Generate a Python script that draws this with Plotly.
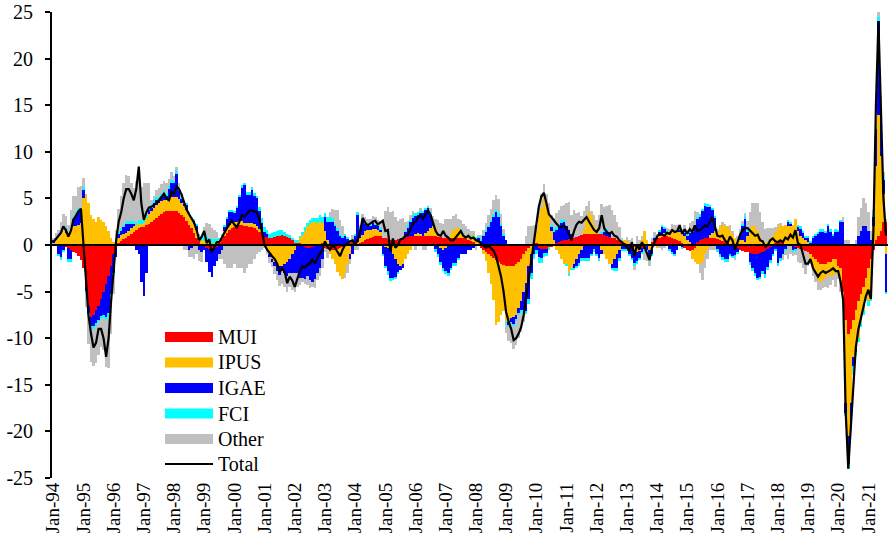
import plotly.graph_objects as go

TICK_LABELS = ["Jan-94", "Jan-95", "Jan-96", "Jan-97", "Jan-98", "Jan-99", "Jan-00",
               "Jan-01", "Jan-02", "Jan-03", "Jan-04", "Jan-05", "Jan-06", "Jan-07",
               "Jan-08", "Jan-09", "Jan-10", "Jan-11", "Jan-12", "Jan-13", "Jan-14",
               "Jan-15", "Jan-16", "Jan-17", "Jan-18", "Jan-19", "Jan-20", "Jan-21"]
Y_TICKS = [-25, -20, -15, -10, -5, 0, 5, 10, 15, 20, 25]
Y_LABELS = ["-25", "-20", "-15", "-10", "-5", "0", "5", "10", "15", "20", "25"]

# monthly values, Jan-94 ... Aug-21 (one row per year)
MUI = [
    0.0, 0.0, 0.0, 0.0, 0.0, -0.2, -0.3, -0.5, -0.7, -0.9, -1.2, -1.6,
    -2.5, -4.5, -6.5, -7.7, -7.5, -7.0, -6.5, -5.8, -5.0, -4.2, -3.3, -2.3,
    -1.0, -0.3, 0.2, 0.4, 0.6, 0.8, 1.0, 1.2, 1.4, 1.6, 1.8, 1.9,
    1.9, 2.1, 2.3, 2.5, 2.7, 2.9, 3.1, 3.3, 3.5, 3.6, 3.7, 3.7,
    3.7, 3.6, 3.4, 3.2, 3.0, 2.6, 2.2, 1.8, 1.3, 0.8, 0.4, 0.1,
    0.0, -0.3, -0.4, -0.4, -0.3, -0.2, 0.2, 0.6, 1.0, 1.3, 1.6, 1.8,
    1.9, 2.0, 2.1, 2.1, 2.0, 2.0, 1.9, 1.9, 1.8, 1.6, 1.4, 1.2,
    0.9, 0.9, 0.8, 0.8, 0.9, 1.0, 1.0, 1.1, 1.0, 0.9, 0.8, 0.6,
    0.3, 0.3, 0.2, 0.1, -0.2, -0.3, -0.3, -0.2, -0.1, 0.0, 0.1, 0.2,
    -0.3, -0.4, -0.5, -0.5, -0.5, -0.4, -0.3, -0.2, 0.0, 0.2, 0.3, 0.4,
    0.0, 0.1, 0.2, 0.3, 0.5, 0.6, 0.8, 0.9, 1.0, 1.0, 1.0, 0.8,
    0.7, 0.6, 0.5, 0.4, 0.5, 0.6, 0.7, 0.8, 0.9, 0.9, 1.0, 1.0,
    1.0, 1.0, 1.0, 1.0, 1.0, 1.0, 1.0, 1.0, 1.0, 0.9, 0.9, 0.8,
    0.8, 0.8, 0.8, 0.8, 0.8, 0.8, 0.8, 0.7, 0.6, 0.5, 0.4, 0.3,
    0.1, -0.1, -0.3, -0.5, -0.7, -1.0, -1.2, -1.4, -1.6, -1.8, -2.0, -2.1,
    -2.2, -2.3, -2.3, -2.2, -2.0, -1.8, -1.5, -1.0, -0.6, -0.3, 0.0, 0.2,
    0.2, -0.3, -0.4, -0.4, -0.4, -0.3, -0.2, 0.0, 0.2, 0.3, 0.4, 0.5,
    0.5, 0.6, 0.7, 0.8, 0.9, 1.0, 1.1, 1.2, 1.2, 1.2, 1.2, 1.2,
    1.2, 1.2, 1.2, 1.1, 1.0, 0.9, 0.8, 0.7, 0.5, 0.4, 0.3, 0.2,
    0.1, 0.0, -0.1, -0.2, -0.3, -0.3, -0.3, -0.2, -0.1, 0.1, 0.3, 0.5,
    0.6, 0.8, 0.9, 1.0, 1.0, 0.9, 0.8, 0.6, 0.5, 0.4, 0.2, -0.3,
    -0.5, -0.6, -0.5, -0.3, 0.3, 0.5, 0.6, 0.7, 0.8, 0.8, 0.8, 0.7,
    0.6, 0.5, 0.4, 0.3, 0.2, 0.1, 0.0, -0.1, -0.3, -0.5, -0.6, -0.7,
    -0.8, -0.9, -1.0, -1.0, -1.0, -0.9, -0.8, -0.6, -0.4, -0.2, 0.0, 0.2,
    0.3, 0.3, 0.2, 0.1, 0.0, 0.0, -0.1, -0.2, -0.3, -0.4, -0.5, -0.6,
    -0.8, -1.0, -1.3, -1.5, -1.8, -2.0, -2.0, -2.0, -1.8, -1.8, -1.5, -1.5,
    -2.2, -2.5, -5.0, -8.0, -9.5, -9.0, -8.0, -7.0, -6.0, -5.3, -4.5, -3.5,
    -2.5, -1.5, -0.5, 0.5, 1.0, 1.5, 2.5, 2.5,
]

IPUS = [
    0.3, 0.5, 0.8, 1.0, 1.5, 1.3, 1.2, 1.6, 2.0, 2.0, 2.2, 2.4,
    5.0, 5.5, 4.5, 3.2, 2.8, 2.5, 3.0, 2.7, 2.5, 2.0, 1.5, 0.8,
    0.3, 0.5, 0.6, 0.7, 0.6, 0.5, 0.5, 0.6, 0.6, 0.5, 0.5, 0.4,
    0.5, 0.8, 1.0, 1.2, 1.3, 1.4, 1.4, 1.4, 1.3, 1.2, 1.3, 1.5,
    1.5, 1.6, 1.5, 1.3, 1.2, 1.2, 1.2, 1.1, 1.0, 0.8, 0.5, 0.4,
    0.4, 0.3, 0.3, 0.2, 0.2, 0.3, 0.3, 0.4, 0.5, 0.5, 0.5, 0.6,
    0.6, 0.5, 0.5, 0.5, 0.4, 0.4, 0.5, 0.5, 0.5, 0.4, 0.3, 0.2,
    0.0, -0.5, -1.0, -1.5, -1.8, -2.0, -2.2, -2.2, -2.0, -1.8, -1.5, -1.0,
    -0.5, 0.0, 0.5, 1.0, 1.5, 2.0, 2.3, 2.5, 2.5, 2.4, 2.5, 2.2,
    1.5, 0.5, -0.5, -1.0, -1.5, -2.5, -3.0, -3.5, -3.0, -2.0, -1.0, 0.0,
    0.0, 0.2, 0.5, 0.8, 1.0, 1.0, 0.8, 0.8, 0.7, 0.6, 0.4, 0.0,
    -0.2, -0.3, -0.5, -1.0, -1.5, -2.0, -2.2, -2.0, -1.5, -1.0, -0.5, 0.0,
    0.2, 0.3, 0.2, 0.0, 0.3, 0.5, 0.8, 1.0, 0.8, 0.3, -0.3, -0.5,
    -0.3, 0.0, 0.5, 0.8, 1.0, 1.0, 0.8, 0.5, 0.3, 0.3, 0.5, 0.8,
    0.3, 0.3, 0.0, -0.5, -1.0, -2.0, -3.0, -4.5, -7.0, -6.5, -5.5, -5.0,
    -6.0, -6.0, -5.5, -5.5, -5.5, -5.0, -4.5, -4.0, -3.5, -2.0, -1.0, 0.5,
    1.5, 3.0, 4.0, 5.0, 4.5, 3.5, 1.5, 0.5, -0.5, -1.0, -1.5, -2.0,
    -2.0, -3.0, -2.5, -2.0, -1.5, -1.0, -0.5, 0.5, 1.5, 2.5, 2.0, 1.0,
    0.5, 0.0, -0.5, -1.0, -1.5, -2.0, -2.0, -1.5, -1.0, -0.5, 0.0, 0.3,
    0.3, 0.2, 0.0, -0.3, -0.5, -0.3, 0.5, 1.5, 0.5, -0.5, -0.5, 0.0,
    -0.3, 0.2, 0.3, 0.3, 0.2, 0.3, 0.5, 0.8, 1.0, 1.0, 1.2, 1.0,
    0.5, 0.3, -1.0, -1.5, -2.0, -2.0, -1.8, -1.0, -0.5, 0.3, 0.5, 0.8,
    0.8, 1.5, 1.8, 1.8, 1.8, 1.5, 1.2, 0.8, 0.5, 0.5, 0.5, 0.3,
    1.0, 1.5, 2.0, 2.0, 1.5, 1.0, 0.5, 0.2, 0.3, 0.8, 1.0, 1.2,
    1.5, 1.8, 1.8, 2.0, 2.0, 2.0, 2.2, 2.8, 1.5, 1.0, 0.8, 0.5,
    0.3, -0.5, -1.0, -1.5, -2.0, -2.0, -1.8, -1.5, -1.3, -1.5, -1.8, -1.5,
    -1.0, -1.5, -1.5, -9.0, -11.0, -8.0, -4.0, -4.0, -4.0, -3.0, -2.5, -2.0,
    -3.5, -4.0, 2.0, 8.0, 13.0, 8.0, 3.0, -1.0,
]

IGAE = [
    0.2, 0.3, -1.0, -1.3, -0.6, 0.5, -1.2, -1.0, 0.8, 1.2, 1.5, 1.2,
    1.0, -0.5, -0.8, -1.0, -1.2, -1.4, -1.5, -1.8, -2.5, -3.5, -4.0, -3.0,
    -2.0, -1.0, 0.4, 0.5, 0.8, 1.0, 0.8, 0.5, 0.3, -0.5, -1.0, -4.0,
    -5.5, -3.0, 0.5, 0.3, 0.5, 0.5, 0.3, 0.5, 0.8, 0.5, 1.0, 1.5,
    1.5, 2.5, 1.0, 0.5, 0.2, 0.5, -0.5, -0.3, 0.3, 0.5, -0.5, -0.8,
    -0.5, -1.5, -2.5, -3.0, -2.0, -1.5, -1.0, -0.5, 0.5, 1.0, 1.5, 1.2,
    1.0, 1.5, 2.5, 3.5, 4.0, 3.0, 3.0, 3.5, 3.0, 3.0, 2.0, 1.0,
    0.5, 0.3, -0.3, -0.3, -0.5, -0.8, -1.0, -0.5, -1.0, -1.5, -1.5, -2.0,
    -2.5, -3.0, -3.5, -3.5, -3.5, -3.0, -3.5, -3.8, -3.5, -3.0, -2.5, -1.5,
    1.5, 2.0, 2.5, 2.5, 2.0, 1.5, 1.0, 0.8, 1.0, 0.5, -0.5, -1.0,
    1.0, 3.0, 1.0, 1.5, 0.8, 0.5, 0.5, 0.7, 0.5, 0.5, 0.3, -1.0,
    -2.0, -2.5, -3.0, -2.5, -2.0, -1.0, -0.5, -0.5, 0.5, 1.0, 1.5, 2.0,
    2.0, 2.0, 2.3, 2.5, 2.5, 2.5, 1.5, 0.5, -0.5, -1.0, -1.5, -2.0,
    -2.5, -3.0, -2.5, -2.0, -2.0, -1.5, -1.0, -1.0, -1.0, -0.5, -0.5, -0.3,
    0.3, 0.5, 0.5, 1.0, 1.5, 2.0, 2.5, 3.0, 3.5, 3.0, 2.0, 1.0,
    0.5, -0.3, -0.5, -0.8, -0.5, -0.5, -1.0, -2.0, -3.0, -3.5, -2.0, -1.0,
    -0.5, -1.0, -1.0, -0.5, -0.5, 0.0, 0.5, 1.0, 1.5, 1.8, 2.0, 2.0,
    1.5, 1.0, 0.5, -0.5, -0.8, -1.0, -1.0, -1.5, -1.5, -1.5, -1.0, -0.5,
    -1.0, -1.5, -0.5, 0.3, 0.5, 0.3, -0.5, -1.0, -1.5, -1.0, -0.5, -0.5,
    -0.5, -1.0, -1.3, -1.5, -1.0, -0.8, -0.5, -0.3, -0.5, -1.0, -0.5, 0.3,
    0.3, 0.5, 0.8, 0.5, 0.3, -0.5, -0.8, -1.0, -0.5, 0.3, -0.3, 0.3,
    0.5, 1.0, 1.5, 2.0, 2.5, 2.5, 3.0, 3.5, 3.3, 3.0, 2.5, 1.5,
    -0.5, -1.0, -1.3, -1.5, -1.5, -1.0, -1.2, -1.0, -0.5, 0.5, 1.5, 2.5,
    0.5, -1.0, -1.5, -2.0, -2.5, -2.5, -2.0, -2.5, -2.0, -1.5, -1.0, -0.5,
    -2.0, -1.5, -1.0, -0.5, 0.5, 0.3, -0.5, -0.3, 0.5, 0.8, 0.5, 0.3,
    0.5, 0.3, 0.8, 1.0, 1.2, 1.5, 1.5, 1.3, 2.0, 1.5, 1.0, 1.5,
    1.5, 2.5, 2.5, -1.0, -3.0, -2.0, -1.0, -0.5, 1.0, 1.5, 2.0, 2.0,
    1.5, 0.5, 1.0, 4.0, 10.0, 5.0, 1.5, -4.0,
]

FCI = [
    0.0, 0.0, -0.2, -0.3, -0.2, 0.1, -0.3, -0.3, 0.2, 0.3, 0.3, 0.3,
    0.2, -0.2, -0.3, -0.3, -0.3, -0.3, -0.3, -0.3, -0.3, -0.4, -0.4, -0.3,
    -0.3, 0.1, 0.2, 0.2, 0.2, 0.2, 0.3, 0.3, 0.3, 0.3, 0.4, 0.4,
    0.3, 0.3, 0.3, 0.3, 0.3, 0.3, 0.3, 0.3, 0.3, 0.3, 0.3, 0.3,
    0.2, 0.2, 0.2, 0.1, 0.1, 0.1, 0.1, 0.1, 0.1, 0.1, 0.3, 0.4,
    0.5, 0.6, 0.5, 0.4, 0.4, 0.3, 0.3, 0.2, 0.2, 0.2, 0.2, 0.2,
    0.2, 0.2, 0.3, 0.3, 0.3, 0.3, 0.3, 0.3, 0.3, 0.3, 0.4, 0.5,
    0.5, 0.4, 0.4, 0.5, 0.5, 0.5, 0.6, 0.5, 0.4, 0.3, 0.3, 0.2,
    0.2, 0.2, 0.3, 0.3, 0.4, 0.4, 0.4, 0.4, 0.4, 0.5, 0.6, 0.6,
    0.4, 0.5, 0.5, 0.4, 0.3, 0.3, 0.2, 0.2, 0.2, 0.2, 0.2, 0.2,
    0.1, 0.2, 0.2, 0.2, 0.2, 0.2, 0.1, 0.1, 0.1, 0.1, 0.1, -0.2,
    -0.3, -0.4, -0.4, -0.3, -0.2, -0.1, 0.1, 0.1, 0.1, 0.2, 0.2, 0.2,
    0.2, 0.2, 0.2, 0.2, 0.2, 0.2, 0.2, 0.1, -0.2, -0.3, -0.3, -0.3,
    -0.3, -0.3, -0.2, -0.2, -0.2, -0.1, 0.1, 0.1, 0.1, 0.1, 0.1, 0.1,
    0.1, 0.1, 0.1, 0.1, 0.1, 0.2, 0.2, 0.3, 0.4, 0.4, 0.3, 0.2,
    -0.2, -0.2, -0.2, -0.2, -0.2, -0.2, -0.3, -0.3, -0.3, -0.5, -0.6, -0.5,
    -0.5, -0.6, -0.5, -0.4, -0.3, -0.2, 0.2, 0.2, 0.2, 0.2, 0.3, 0.3,
    -0.3, -0.3, -0.2, -0.2, -0.2, -0.2, -0.2, -0.2, -0.2, -0.2, -0.2, -0.2,
    -0.2, -0.2, 0.2, 0.2, 0.2, 0.1, -0.2, -0.3, -0.3, -0.2, -0.1, -0.1,
    -0.1, -0.1, -0.2, -0.2, -0.2, -0.2, -0.1, -0.1, -0.1, -0.2, -0.1, 0.1,
    0.1, 0.1, 0.1, 0.1, 0.1, -0.1, -0.1, -0.1, 0.1, 0.1, -0.1, 0.1,
    0.1, 0.1, 0.1, 0.2, 0.2, 0.3, 0.3, 0.3, 0.3, 0.2, 0.2, 0.1,
    -0.2, -0.3, -0.3, -0.3, -0.3, -0.2, -0.2, -0.2, -0.1, 0.2, 0.3, 0.3,
    0.1, -0.2, -0.3, -0.3, -0.3, -0.3, -0.3, -0.4, -0.3, -0.2, -0.1, -0.1,
    -0.2, -0.2, -0.1, -0.1, 0.1, 0.1, -0.1, -0.1, 0.2, 0.2, 0.2, 0.2,
    0.2, 0.1, 0.1, 0.1, 0.2, 0.2, 0.2, 0.2, 0.3, 0.2, 0.2, 0.2,
    0.1, 0.1, -0.2, -0.3, -0.5, -0.5, -0.5, -0.4, -0.4, -0.5, -0.5, -0.5,
    -0.5, -0.5, 0.3, 0.5, 0.5, 0.5, 0.3, -0.3,
]

OTHER = [
    0.3, 0.5, 0.8, 1.5, 1.8, 1.2, 1.0, 2.2, 2.3, 1.8, 2.2, 2.4,
    1.0, -1.5, -3.0, -3.5, -4.0, -4.0, -3.5, -3.0, -3.5, -5.0, -5.5, -4.0,
    -2.0, 1.0, 2.5, 3.5, 4.5, 5.0, 4.8, 4.0, 3.5, 4.5, 5.8, 3.5,
    4.0, 3.5, 2.5, 0.5, 0.5, 0.8, 1.0, 1.0, 1.0, 1.0, 0.8, 0.8,
    0.5, 0.5, 0.5, 0.5, -0.5, -0.5, -0.8, -1.0, -1.5, -1.0, -1.2, -1.0,
    1.0, 1.5, 1.5, 1.2, 1.0, 0.8, -0.5, -1.0, -2.0, -2.5, -2.5, -2.5,
    -2.0, -2.5, -2.5, -2.5, -3.0, -2.5, -2.0, -2.0, -1.5, -1.0, -0.8, -0.5,
    -0.3, -0.5, -0.6, -0.6, -0.8, -1.0, -1.2, -1.5, -1.5, -1.7, -1.5, -1.8,
    -2.0, -1.5, -0.8, -0.5, -0.5, -1.0, -0.8, -0.5, -1.0, -0.8, -0.8, -1.0,
    -0.5, -1.0, 0.5, 1.0, 1.5, 2.0, 1.5, 1.0, -0.5, -1.0, -0.5, 0.5,
    -0.5, -0.5, 0.3, 0.5, 0.5, 0.5, 0.6, 0.6, 0.7, 0.5, 0.8, 2.0,
    3.0, 3.5, 3.0, 3.2, 2.5, 2.0, 2.0, 2.0, 1.0, 0.5, 0.5, 0.5,
    -0.5, 0.0, 0.3, -0.5, -0.5, 0.0, 0.5, 0.5, 1.0, 1.5, 1.5, 1.5,
    2.0, 2.0, 1.5, 1.5, 1.5, 1.0, 1.0, 1.0, 1.0, 0.8, 0.5, 0.3,
    -0.5, 0.2, 0.5, 0.5, 0.8, 1.0, 1.2, 1.5, 1.5, 1.5, 1.0, 0.5,
    -1.0, -1.5, -2.0, -2.5, -2.5, -2.5, -2.0, -1.0, 1.0, 2.0, 2.0, 1.5,
    0.5, 1.0, 1.5, 1.5, 1.0, 1.0, 1.0, 1.2, 1.5, 1.5, 1.5, 1.5,
    2.5, 3.0, 2.0, 3.0, 2.5, 2.5, 2.0, 2.0, 1.5, 1.0, 0.5, 1.0,
    1.0, 2.0, 3.0, 2.5, 2.5, 3.0, 3.0, 2.5, 2.0, 1.5, 0.5, 0.0,
    0.5, 0.3, 0.8, -0.5, 1.0, 0.5, 0.5, -1.0, -1.0, -0.5, 0.5, 0.5,
    0.2, -0.3, -0.5, -0.3, 0.2, 0.5, 1.0, 0.8, 0.5, 0.5, 0.3, 0.8,
    0.5, 1.0, 1.0, 1.5, 0.5, -1.0, -2.0, -1.5, -1.0, -0.5, -0.5, -0.5,
    0.3, 0.2, 0.3, 0.2, 0.0, 0.5, 0.3, -0.3, 0.5, 0.5, 0.3, 0.3,
    1.0, 2.0, 2.5, 2.5, 3.0, 2.5, 2.0, 1.5, 1.5, 1.0, 0.8, 0.5,
    0.5, 0.3, -0.5, -0.5, -1.5, -1.0, -0.5, -0.5, -1.5, -1.5, -2.0, -2.5,
    -1.5, -0.5, -1.0, -1.0, -1.0, -0.8, -0.8, -1.0, -1.5, -1.0, -0.5, -1.5,
    -0.5, -1.0, 0.5, 0.5, 0.5, -0.5, -0.5, 0.5, 2.0, 2.5, 3.0, 2.5,
    2.0, 1.0, 0.5, 0.5, 1.0, 1.0, 0.5, 0.3,
]

TOTAL = [
    0.3, 0.6, 1.0, 1.3, 2.0, 1.6, 0.9, 1.5, 2.7, 3.2, 3.6, 3.9,
    0.0, -4.0, -7.5, -9.5, -11.0, -10.5, -9.0, -9.0, -10.0, -12.0, -10.0, -6.0,
    -2.5, 0.5, 2.5, 3.5, 5.0, 6.0, 6.0, 5.5, 4.8, 6.0, 8.4, 4.5,
    2.7, 3.5, 4.0, 4.1, 4.3, 4.5, 4.8, 5.2, 5.5, 5.0, 4.8, 5.7,
    5.5, 6.3, 6.0, 5.4, 4.5, 3.8, 3.3, 2.9, 2.4, 1.6, 0.5, 0.9,
    1.5, 0.2, 0.6, -0.8, -0.2, 0.3, 0.3, 0.8, 1.4, 1.8, 2.2, 2.6,
    2.2, 1.9, 2.5, 3.2, 3.0, 3.4, 3.7, 3.7, 3.6, 3.5, 2.7, 1.5,
    0.0, -0.5, -0.9, -1.2, -1.5, -2.0, -2.9, -2.5, -2.9, -4.1, -3.4, -3.8,
    -4.5, -3.5, -2.8, -2.3, -2.4, -2.1, -2.0, -1.5, -2.0, -1.4, -1.0, -0.5,
    0.4, -0.2, -0.5, 0.0, -0.3, -0.8, -1.2, -0.5, 0.0, 0.2, 0.4, 0.5,
    0.0, 0.5, 1.5, 2.9, 2.4, 2.1, 2.3, 2.5, 2.6, 2.2, 2.4, 2.6,
    1.5, 1.6, -0.7, 0.7, -0.3, 0.0, 0.6, 0.7, 1.0, 1.1, 1.7, 2.3,
    2.5, 3.0, 3.2, 2.8, 3.3, 3.7, 3.2, 2.3, 1.5, 1.1, 1.0, 1.5,
    1.0, 0.8, 0.5, 0.5, 0.8, 1.2, 1.5, 1.0, 0.8, 1.0, 0.7, 0.8,
    0.5, 0.4, 0.2, 0.0, -0.3, -0.1, -0.4, -0.6, -1.2, -2.2, -3.4, -5.0,
    -7.2, -8.2, -9.0, -10.2, -10.0, -9.5, -8.8, -7.5, -5.5, -3.5, -1.5, 0.5,
    2.3, 4.1, 5.2, 5.6, 4.5, 3.3, 3.0, 2.6, 2.3, 2.0, 1.9, 2.1,
    1.8, 1.2, 0.5, 1.5, 2.2, 2.5, 2.4, 2.7, 3.0, 2.5, 2.1, 1.6,
    1.4, 1.8, 3.2, 1.8, 1.4, 1.2, 1.4, 1.0, 0.9, 0.5, 0.3, 0.0,
    -0.2, -0.7, 0.3, -1.2, 0.0, -0.5, 0.3, -0.2, -1.0, -1.6, -0.3, 0.3,
    0.9, 1.2, 1.1, 1.0, 1.3, 1.2, 1.6, 1.4, 1.5, 2.1, 1.2, 1.7,
    1.2, 1.7, 1.4, 2.1, 1.5, 1.6, 1.8, 2.1, 2.0, 2.5, 3.0, 2.0,
    1.0, 0.9, 1.0, 0.5, 0.2, 0.9, 0.5, -0.5, 0.3, 1.1, 1.6, 1.8,
    1.8, 1.5, 1.2, 1.0, 1.1, 0.5, 0.4, -0.2, 0.0, 0.5, 0.7, 0.4,
    0.3, 0.5, 0.3, 0.8, 0.6, 1.1, 0.8, 1.6, 0.2, 0.0, -1.0, -2.0,
    -2.0, -1.5, -2.5, -3.0, -3.4, -3.0, -2.8, -3.0, -2.8, -2.7, -2.5, -2.8,
    -2.8, -4.0, -6.0, -18.0, -24.0, -19.5, -14.5, -11.0, -9.1, -7.8, -6.5, -5.5,
    -4.8, -5.8, 1.5, 15.0, 24.0, 14.0, 5.0, 1.0,
]

SERIES = [("MUI", MUI, "#FF0000"), ("IPUS", IPUS, "#FFC000"), ("IGAE", IGAE, "#0000FF"),
          ("FCI", FCI, "#00FFFF"), ("Other", OTHER, "#C0C0C0")]

for nm, vals, _ in SERIES:
    assert len(vals) == len(TOTAL), (nm, len(vals), len(TOTAL))

months = list(range(len(TOTAL)))

fig = go.Figure()
for nm, vals, col in SERIES:
    fig.add_trace(go.Bar(x=months, y=vals, name=nm, width=1.0,
                         marker=dict(color=col, line=dict(width=0))))
fig.add_trace(go.Scatter(x=months, y=TOTAL, name="Total", mode="lines",
                         line=dict(color="black", width=2.2)))

FONT = "Liberation Serif, Times New Roman, serif"
fig.update_layout(
    width=888, height=548, barmode="relative", bargap=0,
    margin=dict(l=52, r=0, t=12, b=70, autoexpand=False),
    plot_bgcolor="white", paper_bgcolor="white", showlegend=False,
    font=dict(family=FONT, size=20, color="black"),
)
fig.update_xaxes(range=[-0.5, 331.8], tickmode="array",
                 tickvals=[12 * i for i in range(len(TICK_LABELS))],
                 ticktext=TICK_LABELS, tickangle=-90, showline=False, ticks="",
                 showgrid=False, zeroline=False, automargin=False,
                 tickfont=dict(size=19))
fig.update_yaxes(range=[-25, 25], tickmode="array", tickvals=Y_TICKS, ticktext=Y_LABELS,
                 showline=True, linecolor="black", linewidth=1.8, ticks="outside",
                 ticklen=5, tickwidth=1.8, tickcolor="black", showgrid=False,
                 zeroline=False, automargin=False, ticklabelstandoff=8,
                 tickfont=dict(size=20))

# zero (category) axis line
fig.add_shape(type="line", xref="paper", x0=0, x1=1, yref="y", y0=0, y1=0,
              line=dict(color="black", width=2))

# custom legend (wide patches like the original); positions in pixels
PX_L, PX_R, PY_T, PY_B = 52, 888, 12, 478
def px(xp):
    return (xp - PX_L) / (PX_R - PX_L)
def py(yp):
    return (PY_B - yp) / (PY_B - PY_T)

centers = [337, 362.5, 388, 413.5, 439, 464]
for (nm, _, col), yc in zip(SERIES, centers[:5]):
    fig.add_shape(type="rect", xref="paper", yref="paper",
                  x0=px(165), x1=px(213), y0=py(yc + 5), y1=py(yc - 5),
                  fillcolor=col, line=dict(width=0))
    fig.add_annotation(xref="paper", yref="paper", x=px(216), y=py(yc), text=nm,
                       showarrow=False, xanchor="left", yanchor="middle",
                       font=dict(family=FONT, size=20, color="black"))
fig.add_shape(type="line", xref="paper", yref="paper", x0=px(165), x1=px(213),
              y0=py(centers[5]), y1=py(centers[5]), line=dict(color="black", width=2))
fig.add_annotation(xref="paper", yref="paper", x=px(216), y=py(centers[5]), text="Total",
                   showarrow=False, xanchor="left", yanchor="middle",
                   font=dict(family=FONT, size=20, color="black"))

# remove the default page margin so the figure sits at the window's top-left corner
fig.write_html("out.html", config={"displayModeBar": False},
               post_script="document.body.style.margin='0';")
